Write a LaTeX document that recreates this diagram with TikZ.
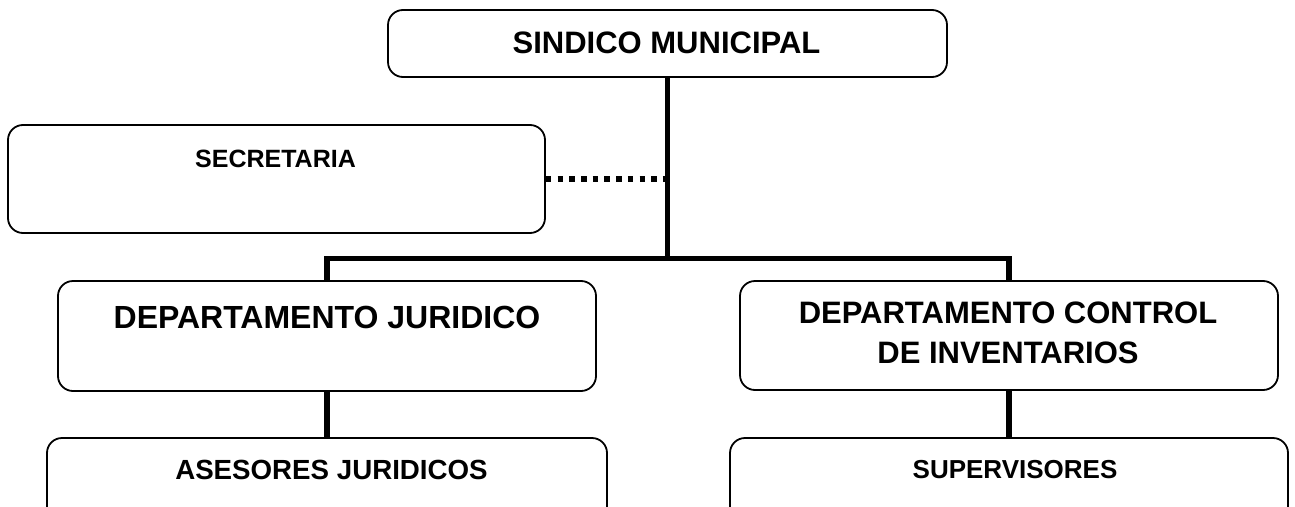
\documentclass[tikz,border=0pt]{standalone}
\usepackage{fontspec}
\setmainfont{Liberation Sans}
\begin{document}
\begin{tikzpicture}[x=1pt,y=-1pt,
  box/.style={draw, line width=1.8pt, rounded corners=15pt, inner sep=0pt},
  lbl/.style={anchor=base, inner sep=0pt, align=center},
  conn/.style={line width=5.5pt},
  dotline/.style={line width=5.5pt, dash pattern=on 5.5pt off 6.2pt}]
\useasboundingbox (0,0) rectangle (1295,506);
\clip (0,0) rectangle (1295,506);
% boxes
\node[box, minimum width=559pt, minimum height=67pt]  (sind) at (667.5,43.5) {};
\node[box, minimum width=537pt, minimum height=108pt] (sec)  at (276.5,179) {};
\node[box, minimum width=538pt, minimum height=110pt] (dj)   at (327,336) {};
\node[box, minimum width=538pt, minimum height=109pt] (dci)  at (1009,335.5) {};
\node[box, minimum width=560pt, minimum height=102pt] (aj)   at (327,489) {};
\node[box, minimum width=558pt, minimum height=102pt] (sup)  at (1009,489) {};
% labels
\node[lbl, font=\fontsize{31}{37}\selectfont\bfseries] (sindt) at (666.5,53) {SINDICO MUNICIPAL};
\node[lbl, font=\fontsize{25}{30}\selectfont\bfseries] (sect) at (275.5,167) {SECRETARIA};
\node[lbl, font=\fontsize{32}{38}\selectfont\bfseries] (djt) at (327,328) {DEPARTAMENTO JURIDICO};
\node[lbl, font=\fontsize{31}{40}\selectfont\bfseries] (dcit) at (1008,363) {DEPARTAMENTO CONTROL\\DE INVENTARIOS};
\node[lbl, font=\fontsize{27.7}{33}\selectfont\bfseries] (ajt) at (331.5,479) {ASESORES JURIDICOS};
\node[lbl, font=\fontsize{26}{31}\selectfont\bfseries] (supt) at (1015,478) {SUPERVISORES};
% connectors
\coordinate (bar) at (667.5,258.5);
\draw[conn] (sind.south) -- (bar);
\draw[conn] (dj.north) |- (bar) -| (dci.north);
\draw[conn] (dj.south) -- (aj.north);
\draw[conn] (dci.south) -- (sup.north);
\draw[dotline] (sec.east) -- (sec.east -| bar);
\end{tikzpicture}
\end{document}
